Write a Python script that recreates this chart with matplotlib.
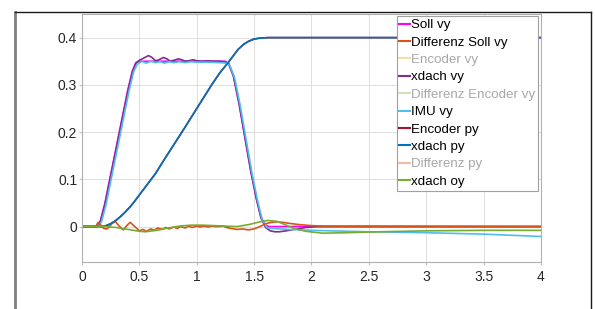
import matplotlib
matplotlib.use('Agg')
import matplotlib.pyplot as plt
from matplotlib.lines import Line2D

plt.rcParams['font.family'] = ['Liberation Sans', 'DejaVu Sans']

# Soll vy
t_soll = [0, 0.13, 0.16, 0.2, 0.25, 0.3, 0.35, 0.4, 0.44, 0.47, 0.5,
          1.25, 1.28, 1.32, 1.37, 1.42, 1.47, 1.52, 1.56, 1.6, 1.63, 4]
soll_vy = [0, 0, 0.012, 0.05, 0.11, 0.17, 0.23, 0.29, 0.33, 0.347, 0.35,
           0.35, 0.345, 0.32, 0.26, 0.19, 0.12, 0.06, 0.02, 0.003, 0, 0]

# Differenz Soll vy
t_diff = [0, 0.12, 0.14, 0.16, 0.19, 0.22, 0.26, 0.29, 0.32, 0.36, 0.39, 0.42,
          0.46, 0.5, 0.53, 0.56, 0.6, 0.63, 0.66, 0.7, 0.73, 0.76, 0.8, 0.83,
          0.86, 0.9, 0.93, 0.96, 1.0, 1.03, 1.06, 1.1, 1.13, 1.16, 1.2, 1.23,
          1.26, 1.3, 1.35, 1.4, 1.45, 1.5, 1.55, 1.6, 1.65, 1.7, 1.75, 1.8,
          1.9, 2.0, 2.1, 4]
diff_soll_vy = [0, 0, 0.009, 0.004, -0.004, -0.005, 0.006, 0.011, 0.002, -0.007,
                0.002, 0.009, 0.0, -0.009, -0.006, -0.01, -0.005, -0.008, -0.003,
                -0.006, -0.002, -0.005, -0.001, -0.004, 0.0, -0.003, 0.001, -0.002,
                0.001, -0.001, 0.001, -0.001, 0.001, 0.0, 0.0, 0.001, -0.002, -0.004,
                -0.006, -0.005, -0.007, -0.005, 0.0, 0.006, 0.009, 0.01, 0.009, 0.007,
                0.004, 0.002, 0.001, 0.0]

# xdach vy
t_xv = [0, 0.13, 0.16, 0.2, 0.25, 0.3, 0.35, 0.4, 0.44, 0.47, 0.5, 0.54, 0.58,
        0.61, 0.64, 0.67, 0.71, 0.74, 0.77, 0.8, 0.84, 0.87, 0.9, 0.93, 0.97,
        1.0, 1.05, 1.1, 1.15, 1.2, 1.25, 1.28, 1.32, 1.37, 1.42, 1.47, 1.52,
        1.56, 1.6, 1.64, 1.68, 1.72, 1.78, 1.85, 1.95, 2.05, 4]
xdach_vy = [0, 0, 0.01, 0.047, 0.107, 0.167, 0.227, 0.287, 0.328, 0.346, 0.352,
            0.357, 0.362, 0.358, 0.351, 0.353, 0.358, 0.355, 0.350, 0.352, 0.355,
            0.353, 0.350, 0.351, 0.353, 0.351, 0.35, 0.351, 0.35, 0.35, 0.348,
            0.343, 0.318, 0.258, 0.188, 0.118, 0.058, 0.018, -0.002, -0.009,
            -0.011, -0.011, -0.009, -0.006, -0.002, 0, 0]

# IMU vy
t_imu = [0, 0.14, 0.17, 0.21, 0.26, 0.31, 0.36, 0.41, 0.45, 0.48, 0.52, 0.56,
         0.6, 0.64, 0.68, 0.72, 0.76, 0.8, 0.85, 0.9, 0.95, 1.0, 1.1, 1.2, 1.26,
         1.29, 1.33, 1.38, 1.43, 1.48, 1.53, 1.57, 1.61, 1.65, 1.8, 2.0, 2.5,
         3.0, 3.5, 4]
imu_vy = [0, 0, 0.01, 0.047, 0.107, 0.167, 0.227, 0.287, 0.328, 0.343, 0.35,
          0.346, 0.35, 0.347, 0.349, 0.346, 0.349, 0.347, 0.349, 0.347, 0.349,
          0.348, 0.348, 0.347, 0.346, 0.34, 0.315, 0.255, 0.185, 0.115, 0.055,
          0.015, -0.002, -0.004, -0.006, -0.008, -0.011, -0.013, -0.016, -0.021]

# Encoder py / xdach py
t_py = [0, 0.17, 0.2, 0.25, 0.29, 0.33, 0.37, 0.42, 0.46, 0.5, 0.55, 0.64,
        0.72, 0.81, 0.9, 0.99, 1.06, 1.13, 1.2, 1.27, 1.32, 1.36, 1.41, 1.45,
        1.5, 1.55, 1.62, 4]
encoder_py = [0, 0, 0.001, 0.006, 0.012, 0.02, 0.029, 0.042, 0.054, 0.067,
              0.083, 0.112, 0.143, 0.177, 0.211, 0.246, 0.273, 0.3, 0.325,
              0.346, 0.362, 0.375, 0.386, 0.392, 0.397, 0.399, 0.4, 0.4]
xdach_py = [0, 0, 0.001, 0.006, 0.012, 0.02, 0.029, 0.042, 0.054, 0.067,
            0.083, 0.112, 0.143, 0.177, 0.211, 0.246, 0.273, 0.3, 0.325,
            0.346, 0.362, 0.375, 0.386, 0.392, 0.397, 0.399, 0.4, 0.4]

# xdach oy
t_oy = [0, 0.2, 0.3, 0.4, 0.5, 0.55, 0.65, 0.75, 0.85, 0.95, 1.05, 1.15, 1.25,
        1.35, 1.45, 1.55, 1.62, 1.7, 1.78, 1.85, 1.95, 2.1, 2.3, 2.6, 3.0, 3.5, 4]
xdach_oy = [0, 0, -0.002, -0.006, -0.01, -0.011, -0.008, -0.003, 0.001, 0.003,
            0.003, 0.002, 0.001, 0.0, 0.004, 0.01, 0.013, 0.011, 0.003, -0.004,
            -0.01, -0.014, -0.013, -0.011, -0.009, -0.008, -0.008]

labels = ['Soll vy', 'Differenz Soll vy', 'Encoder vy', 'xdach vy',
          'Differenz Encoder vy', 'IMU vy', 'Encoder py', 'xdach py',
          'Differenz py', 'xdach oy']
colors = ['#ff00ff', '#d95319', '#f6dca6', '#7e2f8e', '#cfe3ba', '#4dbeee',
          '#a2142f', '#0072bd', '#f2bca6', '#77ac30']
hidden = ['Encoder vy', 'Differenz Encoder vy', 'Differenz py']

fig = plt.figure(figsize=(5.95, 3.09), dpi=100)
ax = fig.add_axes([0.1378, 0.1521, 0.7714, 0.8026])

lw = 1.2
ax.plot(t_py, encoder_py, color=colors[6], lw=lw)
ax.plot(t_soll, soll_vy, color=colors[0], lw=lw)
ax.plot(t_xv, xdach_vy, color=colors[3], lw=lw)
ax.plot(t_imu, imu_vy, color=colors[5], lw=lw)
ax.plot(t_diff, diff_soll_vy, color=colors[1], lw=lw)
ax.plot(t_py, xdach_py, color=colors[7], lw=lw)
ax.plot(t_oy, xdach_oy, color=colors[9], lw=lw)

ax.set_xlim(0, 4)
ax.set_ylim(-0.075, 0.45)
ax.set_xticks([0, 0.5, 1, 1.5, 2, 2.5, 3, 3.5, 4])
ax.set_xticklabels(['0', '0.5', '1', '1.5', '2', '2.5', '3', '3.5', '4'])
ax.set_yticks([0, 0.1, 0.2, 0.3, 0.4])
ax.set_yticklabels(['0', '0.1', '0.2', '0.3', '0.4'])
ax.grid(True, color='#dedede', lw=0.7)
ax.set_axisbelow(True)
for s in ax.spines.values():
    s.set_color('#b0b0b0')
    s.set_linewidth(0.8)
ax.tick_params(labelsize=10, colors='#b0b0b0', labelcolor='#262626',
               length=2.5, width=0.6)
ax.tick_params(axis='y', pad=1)
ax.tick_params(axis='x', pad=3.5)

handles = [Line2D([], [], color=c, lw=1.5) for c in colors]
leg = fig.legend(handles, labels, loc='upper right',
                 bbox_to_anchor=(538 / 595, 1 - 16 / 309), borderaxespad=0,
                 fontsize=9.6, handlelength=0.8, handletextpad=0.05,
                 labelspacing=0.38, borderpad=0.22, fancybox=False,
                 framealpha=1, edgecolor='#a0a0a0')
leg.get_frame().set_linewidth(0.8)
for txt in leg.get_texts():
    if txt.get_text() in hidden:
        txt.set_color('#a8a8a8')

# outer frame
fig.add_artist(Line2D([15 / 595, 15 / 595], [0, 1 - 12 / 309], color='#808080', lw=2))
fig.add_artist(Line2D([15 / 595, 591 / 595], [1 - 12 / 309, 1 - 12 / 309], color='#1a1a1a', lw=1))
fig.add_artist(Line2D([591 / 595, 591 / 595], [0, 1 - 12 / 309], color='#1a1a1a', lw=1))

fig.savefig('out.png', dpi=100)
